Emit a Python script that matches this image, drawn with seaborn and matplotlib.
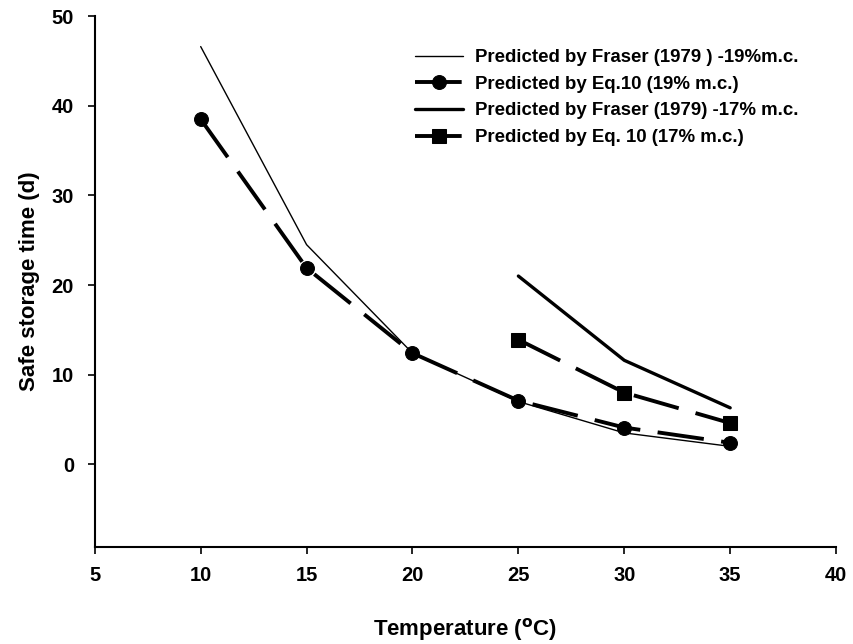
import matplotlib
matplotlib.use("Agg")
import matplotlib.pyplot as plt
import seaborn as sns
import pandas as pd

# Dados
temp_19 = [10, 15, 20, 25, 30, 35]
fraser_19 = [46.6, 24.5, 12.4, 7.0, 3.5, 2.0]
eq10_19 = [38.5, 21.9, 12.4, 7.1, 4.1, 2.4]

temp_17 = [25, 30, 35]
fraser_17 = [21.0, 11.6, 6.3]
eq10_17 = [13.9, 8.0, 4.6]

rotulos = [
    "Predicted by Fraser (1979 ) -19%m.c.",
    "Predicted by Eq.10 (19% m.c.)",
    "Predicted by Fraser (1979) -17% m.c.",
    "Predicted by Eq. 10 (17% m.c.)",
]

sns.set_style("ticks")
plt.rcParams["font.family"] = ["Liberation Sans", "DejaVu Sans"]
plt.rcParams.update({
    "font.weight": "bold",
    "axes.labelweight": "bold",
    "mathtext.default": "bf",
    "text.color": "black",
    "axes.labelcolor": "black",
    "xtick.color": "black",
    "ytick.color": "black",
})

fig = plt.figure(figsize=(8.54, 6.44), dpi=100)
ax = fig.add_axes([0.111, 0.151, 0.868, 0.824])

tracejado = (0, (12, 4.5))

sns.lineplot(x=temp_19, y=fraser_19, ax=ax, color="black", linewidth=1.0,
             label=rotulos[0])
sns.lineplot(x=temp_19, y=eq10_19, ax=ax, color="black", linewidth=2.8,
             linestyle=tracejado, marker="o", markersize=10,
             markeredgecolor="black", label=rotulos[1])
sns.lineplot(x=temp_17, y=fraser_17, ax=ax, color="black", linewidth=2.4,
             label=rotulos[2])
sns.lineplot(x=temp_17, y=eq10_17, ax=ax, color="black", linewidth=2.8,
             linestyle=tracejado, marker="s", markersize=10,
             markeredgecolor="black", label=rotulos[3])

ax.set_xlim(5, 40)
ax.set_ylim(-9.2, 50)
ax.set_xticks([5, 10, 15, 20, 25, 30, 35, 40])
ax.set_yticks([0, 10, 20, 30, 40, 50])
ax.tick_params(labelsize=14.5, width=1.2, length=5, color="black")
ax.tick_params(axis="x", pad=9)
ax.tick_params(axis="y", pad=10)
sns.despine(ax=ax)
for lado in ["left", "bottom"]:
    ax.spines[lado].set_linewidth(1.5)
    ax.spines[lado].set_color("black")

ax.set_xlabel("Temperature ($^{\\rm o}$C)", fontsize=16, labelpad=22)
ax.set_ylabel("Safe storage time (d)", fontsize=16, labelpad=8)

leg = ax.legend(frameon=False, fontsize=13.4, loc="upper left",
                bbox_to_anchor=(415 / 854, 1 - 49 / 644),
                bbox_transform=fig.transFigure, borderaxespad=0, borderpad=0,
                handlelength=2.6, handletextpad=0.6, labelspacing=0.52)

fig.savefig("out.png", dpi=100)
